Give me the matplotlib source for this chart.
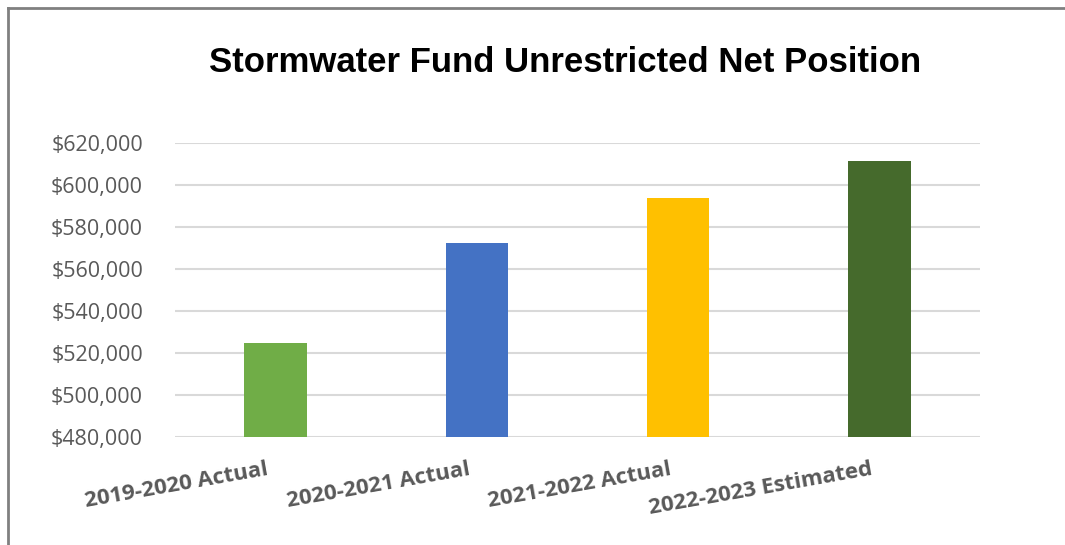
import matplotlib
matplotlib.use("Agg")
import matplotlib.pyplot as plt
from matplotlib.lines import Line2D
from matplotlib.ticker import FuncFormatter
from matplotlib.transforms import ScaledTranslation

categories = ["2019-2020 Actual", "2020-2021 Actual", "2021-2022 Actual", "2022-2023 Estimated"]
values = [524800, 572400, 593800, 611400]
colors = ["#70AD47", "#4472C4", "#FFC000", "#456A2C"]
yticks = [480000, 500000, 520000, 540000, 560000, 580000, 600000, 620000]
title = "Stormwater Fund Unrestricted Net Position"

fig = plt.figure(figsize=(10.65, 5.45), dpi=100)
ax = fig.add_axes([175/1065, 1-437/545, (980-175)/1065, (437-143)/545])

x = list(range(len(categories)))
ax.bar(x, [v - yticks[0] for v in values], bottom=yticks[0], width=0.31, color=colors, zorder=3)
ax.set_xlim(-0.5, len(categories) - 0.5)
ax.set_ylim(yticks[0], yticks[-1])
ax.set_yticks(yticks)
ax.yaxis.set_major_formatter(FuncFormatter(lambda v, p: "${:,.0f}".format(v)))
ax.grid(axis="y", color="#d9d9d9", linewidth=1.5, zorder=0)
ax.set_axisbelow(True)
for s in ax.spines.values():
    s.set_visible(False)
ax.tick_params(axis="y", length=0, pad=23, labelsize=15.5, labelcolor="#595959")
for lab in ax.get_yticklabels():
    lab.set_fontfamily("Open Sans")
ax.set_xticks(x)
ax.set_xticklabels(categories, rotation=10, ha="right", rotation_mode="anchor",
                   fontsize=16, fontweight="bold", color="#595959", family="Open Sans")
ax.tick_params(axis="x", length=0, pad=16)
offset = ScaledTranslation(-9/100, 0, fig.dpi_scale_trans)
for lab in ax.get_xticklabels():
    lab.set_transform(lab.get_transform() + offset)

fig.text(565/1065, 1 - 62/545, title, ha="center", va="center", fontsize=25,
         fontweight="bold", family="Liberation Sans", color="black")

fig.add_artist(Line2D([8/1065, 8/1065], [0, 1 - 8/545], transform=fig.transFigure, color="#808080", linewidth=2))
fig.add_artist(Line2D([8/1065, 1], [1 - 8/545, 1 - 8/545], transform=fig.transFigure, color="#808080", linewidth=2))

fig.savefig("out.png", dpi=100)
